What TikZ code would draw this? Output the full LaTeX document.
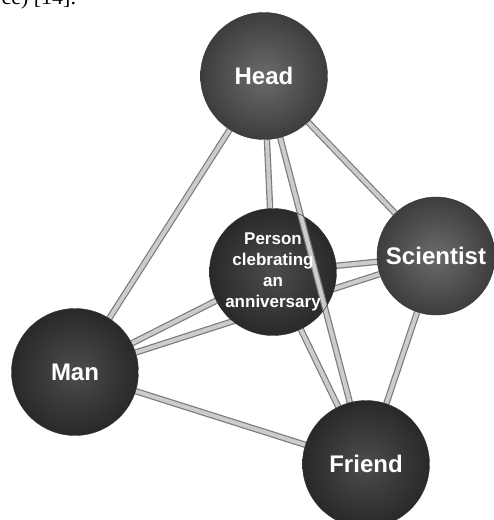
\documentclass[tikz,border=0pt]{standalone}
\usepackage{fontspec}
\setmainfont{Liberation Serif}
\setsansfont{Liberation Sans}
\usetikzlibrary{backgrounds}

\begin{document}
\begin{tikzpicture}
[x=1pt,y=-1pt,
  ball/.style={shape=circle,inner sep=0pt,minimum size=127pt,draw=black!78,thin,
    text=white,font=\sffamily\bfseries\fontsize{24}{24}\selectfont},
  light/.style={ball,inner color=black!58,outer color=black!76},
  dark/.style={ball,inner color=black!70,outer color=black!84},
  rod/.style={draw=black!52,double=black!20,double distance=4pt,line width=1.2pt}]

\useasboundingbox (0,0) rectangle (494,520);
\clip (0,0) rectangle (494,520);

\node [anchor=base west,font=\rmfamily\fontsize{22}{22}\selectfont] (cite) at (-2,4) {ce) [14].};

\node [light] (head) at (264,76) {Head};
\node [dark] (man) at (75,372) {Man};
\node [light,minimum size=118pt] (scientist) at (436,256) {Scientist};
\node [dark] (friend) at (366,464) {Friend};
\node [dark,align=center,font=\sffamily\bfseries\fontsize{17}{21}\selectfont,
       path picture={\draw[rod] (head.center) -- (friend.center);}]
      (person) at (273,272) {Person\\clebrating\\an\\anniversary};

\begin{pgfonlayer}{background}
\draw [rod] (head) -- (man);
\draw [rod] (head) -- (person);
\draw [rod] (head) -- (scientist);
\draw [rod] (head) -- (friend);
\draw [rod] (person) -- (scientist);
\draw [rod] (person) -- (man);
\draw [rod] (person) -- (friend);
\draw [rod] (man) -- (scientist);
\draw [rod] (man) -- (friend);
\draw [rod] (scientist) -- (friend);
\end{pgfonlayer}
\end{tikzpicture}
\end{document}
